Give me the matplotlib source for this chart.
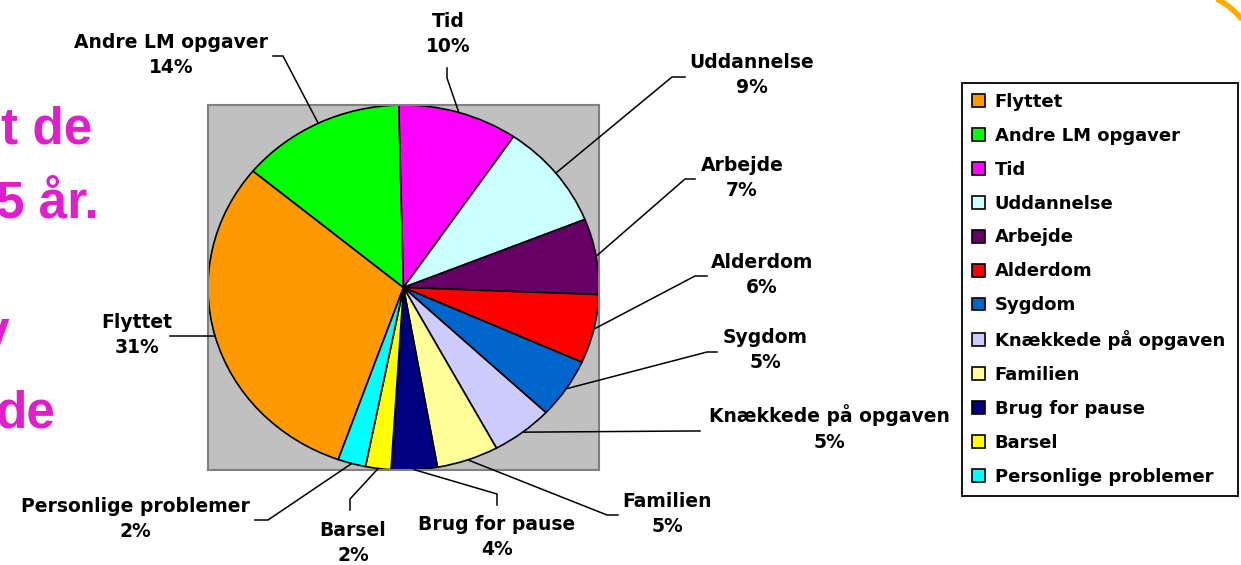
"""
Pie chart: reasons for leaving (Danish slide), with leader-line labels
"""

import matplotlib
matplotlib.use("Agg")
import matplotlib.pyplot as plt
import numpy as np

# * Figure size in pixels
W, H = 1241, 565

# * Data
categories = [
    "Flyttet",
    "Andre LM opgaver",
    "Tid",
    "Uddannelse",
    "Arbejde",
    "Alderdom",
    "Sygdom",
    "Knækkede på opgaven",
    "Familien",
    "Brug for pause",
    "Barsel",
    "Personlige problemer",
]
shares = [30.6, 13.6, 9.9, 9.4, 6.7, 6.1, 5.3, 5.1, 5.1, 3.8, 2.1, 2.3]
colors = [
    "#FF9900", "#00FF00", "#FF00FF", "#CCFFFF", "#660066", "#FF0000",
    "#0066CC", "#CCCCFF", "#FFFF99", "#000080", "#FFFF00", "#00FFFF",
]

# * Layout (figure pixels, origin top-left)
AX_L, AX_R, AX_T, AX_B = 208, 599, 105, 470
label_pos = [(137, 335), (171, 55), (448, 34), (752, 75), (742, 178), (762, 275),
             (765, 350), (829, 428), (667, 514), (497, 537), (353, 543), (135, 519)]
elbows = [(178, 336), (283, 56), (447, 78), (672, 77), (685, 179), (695, 276),
          (707, 352), (690, 431), (607, 515), (497, 494), (350, 499), (268, 520)]
ends = [(170, 336), (273, 56), (447, 68), (685, 77), (695, 179), (707, 276),
        (717, 352), (700, 431), (618, 515), (497, 505), (350, 510), (255, 520)]

LABEL_FONT = dict(fontsize=13.5, fontweight="bold", family="DejaVu Sans")
SLIDE_PINK = "#E01ECC"
SLIDE_FONT = dict(fontsize=37, fontweight="bold", family="Liberation Sans",
                  color=SLIDE_PINK, ha="right", va="baseline")


def to_pixels(x, y):
    """Pie data coords (-1..1) -> figure pixels"""
    px = AX_L + (x + 1) / 2 * (AX_R - AX_L)
    py = AX_T + (1 - y) / 2 * (AX_B - AX_T)
    return px, py


fig = plt.figure(figsize=(W / 100, H / 100), dpi=100)

# * Pie
ax = fig.add_axes([AX_L / W, 1 - AX_B / H, (AX_R - AX_L) / W, (AX_B - AX_T) / H])
wedges, _ = ax.pie(
    shares,
    colors=colors,
    startangle=250.5,
    counterclock=False,
    frame=True,
    wedgeprops=dict(edgecolor="black", linewidth=1.2),
)
for w in wedges:
    w.set_clip_on(False)
ax.set_aspect("auto")
ax.set_xlim(-1, 1)
ax.set_ylim(-1, 1)
ax.set_xticks([])
ax.set_yticks([])
ax.set_facecolor("#C0C0C0")
for s in ax.spines.values():
    s.set_color("#808080")
    s.set_linewidth(1.5)

# overlay layer in pixel coordinates (on top, so leader lines cross the box)
top = fig.add_axes([0, 0, 1, 1])
top.set_xlim(0, W)
top.set_ylim(H, 0)
top.axis("off")
top.set_zorder(3)

# partial slide text hidden behind the chart
top.text(92, 143, "t de", **SLIDE_FONT)
top.text(99, 218, "5 år.", **SLIDE_FONT)
top.text(9, 347, "v", **SLIDE_FONT)
top.text(56, 427, "de", **SLIDE_FONT)

# slide frame corner
theta = np.radians(np.linspace(30, 70, 60))
top.plot(1180 + 80 * np.cos(theta), 70 - 80 * np.sin(theta),
         color="#FFAA00", lw=4, solid_capstyle="butt")

# * Labels with leader lines
total = sum(shares)
for w, cat, val, lp, el, en in zip(wedges, categories, shares, label_pos, elbows, ends):
    mid = np.radians((w.theta1 + w.theta2) / 2)
    sx, sy = to_pixels(np.cos(mid), np.sin(mid))
    top.plot([sx, el[0], en[0]], [sy, el[1], en[1]], color="black", lw=1.1)
    top.text(lp[0], lp[1], f"{cat}\n{val / total * 100:.0f}%", ha="center",
             va="center", linespacing=1.45, **LABEL_FONT)

# * Legend
leg = fig.legend(
    wedges,
    categories,
    loc="upper left",
    bbox_to_anchor=(962 / W, 1 - 492 / H, 276 / W, 409 / H),
    mode="expand",
    borderaxespad=0,
    prop=dict(weight="bold", size=13, family="DejaVu Sans"),
    handlelength=0.72,
    handleheight=0.72,
    handletextpad=0.55,
    labelspacing=0.88,
    borderpad=0.55,
    fancybox=False,
    framealpha=1,
    edgecolor="black",
)
leg.get_frame().set_linewidth(1.3)

fig.savefig("out.png", dpi=100)
